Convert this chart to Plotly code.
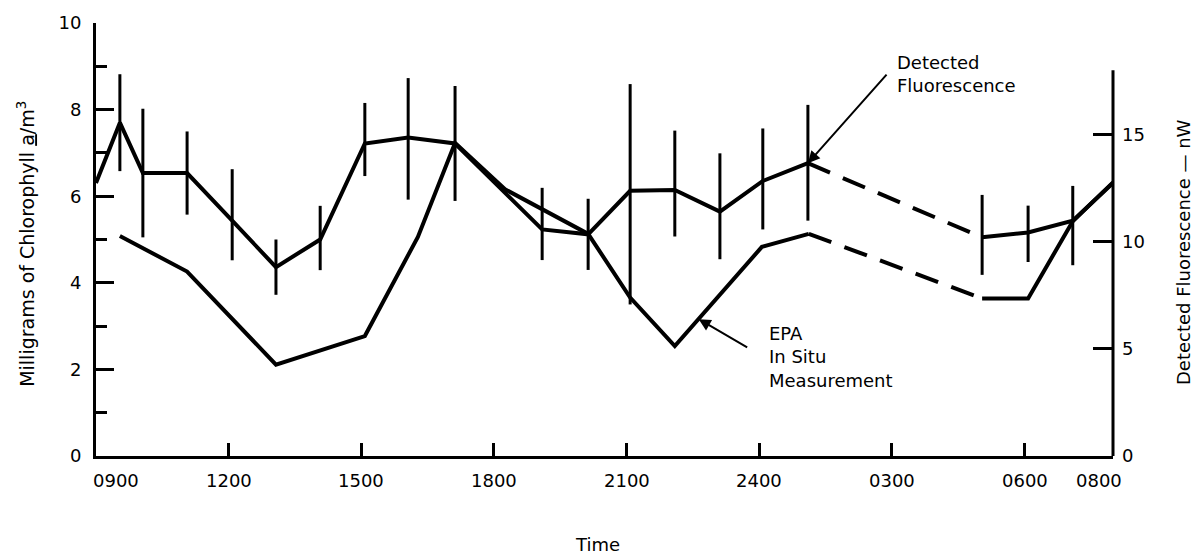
import plotly.graph_objects as go

# ---------------- data ----------------
# Detected fluorescence (nW, right axis) with asymmetric error bars
fl_hours = [9.0, 9.54, 10.06, 11.06, 12.08, 13.07, 14.07, 15.08, 16.06, 17.12,
            19.09, 20.13, 21.08, 22.09, 23.11, 24.08, 25.1, 29.04, 30.08, 31.09, 32.0]
fl_vals = [12.74, 15.55, 13.2, 13.2, 10.98, 8.81, 10.1, 14.58, 14.86, 14.58,
           10.57, 10.34, 12.37, 12.41, 11.4, 12.83, 13.66, 10.2, 10.43, 10.98, 12.74]
fl_err_plus = [0, 2.26, 3.0, 1.94, 2.4, 1.29, 1.57, 1.89, 2.77, 2.68,
               1.94, 1.66, 4.98, 2.77, 2.72, 2.45, 2.72, 1.98, 1.25, 1.62, 0]
fl_err_minus = [0, 2.26, 3.0, 1.94, 1.85, 1.29, 1.43, 1.52, 2.9, 2.68,
                1.43, 1.66, 5.3, 2.17, 2.22, 2.26, 2.68, 1.75, 1.38, 2.08, 0]

# EPA in situ chlorophyll a (mg/m3, left axis)
epa_hours = [9.54, 11.06, 13.07, 15.08, 16.28, 17.12, 18.25, 20.13, 21.08, 22.09,
             24.06, 25.12, 29.04, 30.08, 31.09, 32.0]
epa_vals = [5.08, 4.26, 2.11, 2.77, 5.06, 7.23, 6.16, 5.13, 3.66, 2.54,
            4.83, 5.13, 3.64, 3.64, 5.42, 6.32]

x_tick_hours = [12, 15, 18, 21, 24, 27, 30]
x_label_hours = [9, 12, 15, 18, 21, 24, 27, 30, 32]
x_label_text = ["0900", "1200", "1500", "1800", "2100", "2400", "0300", "0600", "0800"]
right_axis_max = 18

FONT = "DejaVu Sans"
BLACK = "black"


def split_gap(h, v, gap=3):
    """Solid segments with the overnight (no-sample) gap removed, plus the dashed bridge."""
    xs, ys, dx, dy = [], [], [], []
    for i in range(len(h)):
        if i > 0 and h[i] - h[i - 1] > gap:
            xs.append(None)
            ys.append(None)
            dx, dy = [h[i - 1], h[i]], [v[i - 1], v[i]]
        xs.append(h[i])
        ys.append(v[i])
    return xs, ys, dx, dy


fig = go.Figure()

# EPA line (left axis)
ex, ey, edx, edy = split_gap(epa_hours, epa_vals)
fig.add_trace(go.Scatter(x=ex, y=ey, mode="lines", yaxis="y",
                         line=dict(color=BLACK, width=4), connectgaps=False,
                         hoverinfo="skip"))
fig.add_trace(go.Scatter(x=edx, y=edy, mode="lines", yaxis="y",
                         line=dict(color=BLACK, width=4, dash="24px,14px"),
                         hoverinfo="skip"))

# Fluorescence line (right axis)
fx, fy, fdx, fdy = split_gap(fl_hours, fl_vals)
fig.add_trace(go.Scatter(x=fx, y=fy, mode="lines", yaxis="y2",
                         line=dict(color=BLACK, width=4), connectgaps=False,
                         hoverinfo="skip"))
fig.add_trace(go.Scatter(x=fdx, y=fdy, mode="lines", yaxis="y2",
                         line=dict(color=BLACK, width=4, dash="24px,14px"),
                         hoverinfo="skip"))
# Error bars
fig.add_trace(go.Scatter(x=fl_hours, y=fl_vals, mode="markers", yaxis="y2",
                         marker=dict(size=1, color="rgba(0,0,0,0)"),
                         error_y=dict(type="data", symmetric=False,
                                      array=fl_err_plus, arrayminus=fl_err_minus,
                                      width=0, thickness=3, color=BLACK),
                         hoverinfo="skip"))

annotations = []
# x tick labels
for i, (h, t) in enumerate(zip(x_label_hours, x_label_text)):
    xs = 0
    if i == 0:
        xs = 20
    elif i == len(x_label_hours) - 1:
        xs = -14
    annotations.append(dict(x=h, xref="x", y=0, yref="paper", yshift=-24,
                            xshift=xs, text=t, showarrow=False,
                            xanchor="center", yanchor="middle",
                            font=dict(family=FONT, size=18, color=BLACK)))

# Axis titles
annotations.append(dict(x=0.5, xref="paper", y=0, yref="paper", yshift=-88, xshift=-7,
                        text="Time", showarrow=False, yanchor="middle",
                        font=dict(family=FONT, size=18, color=BLACK)))
annotations.append(dict(x=0, xref="paper", y=0.49, yref="paper", xshift=-70,
                        text="Milligrams of Chlorophyll <u>a</u>/m<sup>3</sup>",
                        textangle=-90, showarrow=False,
                        xanchor="center", yanchor="middle",
                        font=dict(family=FONT, size=19, color=BLACK)))
annotations.append(dict(x=1, xref="paper", y=0.471, yref="paper", xshift=70,
                        text="Detected Fluorescence \u2014 nW",
                        textangle=-90, showarrow=False,
                        xanchor="center", yanchor="middle",
                        font=dict(family=FONT, size=18, color=BLACK)))

# Callouts
annotations.append(dict(x=0.7856, xref="paper", y=0.8833, yref="paper",
                        text="Detected<br>Fluorescence", showarrow=False,
                        xanchor="left", yanchor="middle", align="left",
                        font=dict(family=FONT, size=18, color=BLACK)))
annotations.append(dict(x=fl_hours[16], xref="x", y=fl_vals[16], yref="y2",
                        ax=80, ay=-90, text="", showarrow=True,
                        arrowhead=2, arrowsize=1.2, arrowwidth=2, arrowcolor=BLACK))
annotations.append(dict(x=0.6598, xref="paper", y=0.2288, yref="paper",
                        text="EPA<br>In Situ<br>Measurement", showarrow=False,
                        xanchor="left", yanchor="middle", align="left",
                        font=dict(family=FONT, size=18, color=BLACK)))
annotations.append(dict(x=22.63, xref="x", y=3.16, yref="y",
                        ax=50, ay=29, text="", showarrow=True,
                        arrowhead=2, arrowsize=1.2, arrowwidth=2, arrowcolor=BLACK))

fig.update_layout(
    width=1202, height=557,
    margin=dict(l=96, r=89, t=19, b=101),
    paper_bgcolor="white", plot_bgcolor="white",
    showlegend=False,
    font=dict(family=FONT, size=18, color=BLACK),
    xaxis=dict(range=[9, 32], showgrid=False, zeroline=False,
               showline=True, linewidth=3, linecolor=BLACK,
               ticks="inside", ticklen=13, tickwidth=3, tickcolor=BLACK,
               tickvals=x_tick_hours, showticklabels=False),
    yaxis=dict(range=[0, 10], showgrid=False, zeroline=False,
               showline=True, linewidth=3, linecolor=BLACK,
               ticks="inside", ticklen=18, tickwidth=3, tickcolor=BLACK,
               dtick=2, tick0=0, ticklabelstandoff=8,
               minor=dict(ticks="inside", ticklen=11, tickwidth=3,
                          tickcolor=BLACK, dtick=1),
               tickfont=dict(family=FONT, size=18, color=BLACK)),
    yaxis2=dict(range=[0, 20.2], overlaying="y", side="right",
                showgrid=False, zeroline=False, showline=False,
                ticks="inside", ticklen=20, tickwidth=3, tickcolor=BLACK,
                tickvals=[0, 5, 10, 15], ticklabelstandoff=8,
                tickfont=dict(family=FONT, size=18, color=BLACK)),
    annotations=annotations,
    shapes=[dict(type="line", xref="paper", x0=1, x1=1, yref="y2",
                 y0=0, y1=right_axis_max, line=dict(color=BLACK, width=3))],
)

fig.write_html(
    "out.html",
    config={"displayModeBar": False},
    post_script="document.body.style.margin='0';document.body.style.overflow='hidden';",
)
